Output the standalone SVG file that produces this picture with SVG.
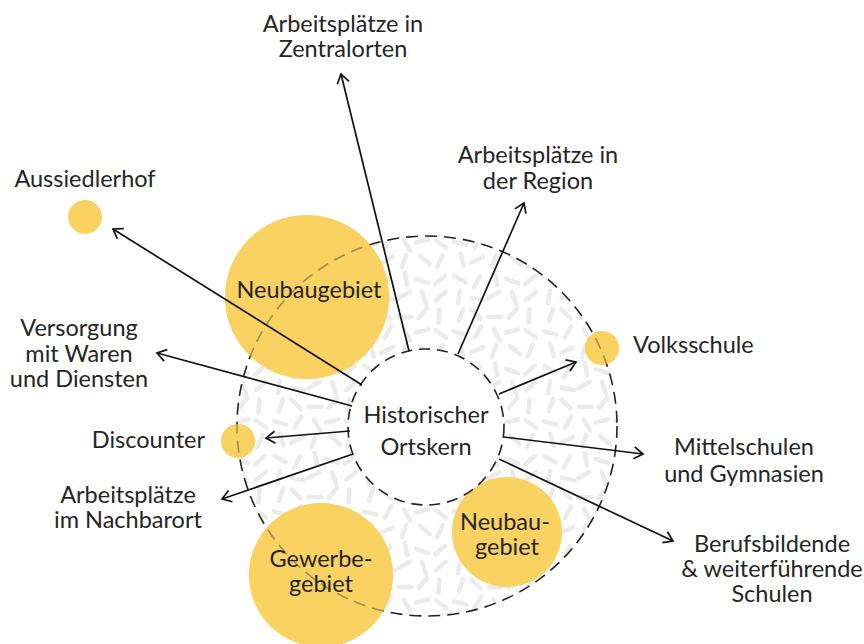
<svg xmlns="http://www.w3.org/2000/svg" xmlns:xlink="http://www.w3.org/1999/xlink" width="864" height="644" viewBox="0 0 864 644">
<style>
  text{font-family:Lato,"Open Sans","Liberation Sans",sans-serif;font-size:23.5px;fill:#252525;text-anchor:middle}
  .yel{fill:#f9d262}
  .tint{fill:#f9d262;opacity:0.6}
  .dash{fill:none;stroke:#222;stroke-width:1.6;stroke-dasharray:12 7}
  .conn line{stroke:#111;stroke-width:1.7;marker-end:url(#arr)}
</style>
<defs>
  <marker id="arr" markerUnits="userSpaceOnUse" markerWidth="24" markerHeight="24" viewBox="-12 -12 24 24" refX="0" refY="0" orient="auto">
    <path d="M-9,-6 L0,0 L-9,6" fill="none" stroke="#111" stroke-width="1.7"/>
  </marker>
  <line id="d" x1="-6.5" y1="0" x2="6.5" y2="0" stroke="#ebebeb" stroke-width="4.5" stroke-linecap="round"/>
  <pattern id="tex" patternUnits="userSpaceOnUse" width="90" height="90">
    <use xlink:href="#d" transform="translate(10,9) rotate(30)"/>
    <use xlink:href="#d" transform="translate(27,12) rotate(-60)"/>
    <use xlink:href="#d" transform="translate(46,9) rotate(80)"/>
    <use xlink:href="#d" transform="translate(62,11) rotate(20)"/>
    <use xlink:href="#d" transform="translate(80,10) rotate(-40)"/>
    <use xlink:href="#d" transform="translate(9,27) rotate(100)"/>
    <use xlink:href="#d" transform="translate(28,29) rotate(10)"/>
    <use xlink:href="#d" transform="translate(44,25) rotate(-30)"/>
    <use xlink:href="#d" transform="translate(64,28) rotate(70)"/>
    <use xlink:href="#d" transform="translate(81,26) rotate(140)"/>
    <use xlink:href="#d" transform="translate(11,45) rotate(-70)"/>
    <use xlink:href="#d" transform="translate(26,44) rotate(45)"/>
    <use xlink:href="#d" transform="translate(45,47) rotate(0)"/>
    <use xlink:href="#d" transform="translate(63,43) rotate(-50)"/>
    <use xlink:href="#d" transform="translate(79,46) rotate(95)"/>
    <use xlink:href="#d" transform="translate(10,63) rotate(15)"/>
    <use xlink:href="#d" transform="translate(28,62) rotate(120)"/>
    <use xlink:href="#d" transform="translate(47,65) rotate(60)"/>
    <use xlink:href="#d" transform="translate(62,61) rotate(-15)"/>
    <use xlink:href="#d" transform="translate(81,64) rotate(35)"/>
    <use xlink:href="#d" transform="translate(12,80) rotate(75)"/>
    <use xlink:href="#d" transform="translate(27,80) rotate(-25)"/>
    <use xlink:href="#d" transform="translate(44,81) rotate(110)"/>
    <use xlink:href="#d" transform="translate(65,80) rotate(40)"/>
    <use xlink:href="#d" transform="translate(80,81) rotate(-65)"/>
  </pattern>
</defs>

<g id="umland">
  <circle cx="427" cy="426" r="190" fill="url(#tex)"/>
</g>

<g id="yellow-areas">
  <circle id="c-neubau1" class="yel" cx="307" cy="297" r="82"/>
  <circle id="c-gewerbe" class="yel" cx="321" cy="575" r="72"/>
  <circle id="c-neubau2" class="yel" cx="507" cy="532" r="55"/>
  <circle id="c-volks" class="yel" cx="602" cy="348" r="17"/>
  <circle id="c-disc" class="yel" cx="238" cy="441" r="17"/>
  <circle id="c-aussiedler" class="yel" cx="85" cy="217" r="17"/>
</g>

<g id="umland-border">
  <circle class="dash" cx="427" cy="426" r="190"/>
  <circle class="tint" cx="307" cy="297" r="82"/>
  <circle class="tint" cx="321" cy="575" r="72"/>
  <circle class="tint" cx="602" cy="348" r="17"/>
  <circle class="tint" cx="238" cy="441" r="17"/>
</g>

<g id="ortskern">
  <circle cx="426" cy="427" r="78" fill="#fff" stroke="#222" stroke-width="1.6" stroke-dasharray="11 7"/>
  <text x="426" y="423">Historischer</text>
  <text x="426" y="455">Ortskern</text>
</g>

<g class="conn" id="connectors">
  <line x1="409" y1="351" x2="341" y2="74"/>
  <line x1="458" y1="354" x2="524" y2="203"/>
  <line x1="499" y1="394" x2="576" y2="362"/>
  <line x1="504" y1="437" x2="643" y2="454"/>
  <line x1="499" y1="459" x2="673" y2="541"/>
  <line x1="362" y1="385" x2="113" y2="229"/>
  <line x1="352" y1="406" x2="157" y2="353"/>
  <line x1="350" y1="431" x2="266" y2="438"/>
  <line x1="353" y1="454" x2="222" y2="499"/>
</g>

<g id="n-neubau1"><text x="309" y="298">Neubaugebiet</text></g>
<g id="n-gewerbe"><text x="321" y="567">Gewerbe-</text><text x="321" y="592">gebiet</text></g>
<g id="n-neubau2"><text x="505" y="530">Neubau-</text><text x="507" y="555">gebiet</text></g>
<g id="n-zentral"><text x="343" y="32">Arbeitsplätze in</text><text x="343" y="57">Zentralorten</text></g>
<g id="n-region"><text x="538" y="163">Arbeitsplätze in</text><text x="538" y="189">der Region</text></g>
<g id="n-aussiedler"><text x="85" y="187">Aussiedlerhof</text></g>
<g id="n-versorgung"><text x="79" y="336">Versorgung</text><text x="79" y="362">mit Waren</text><text x="79" y="387">und Diensten</text></g>
<g id="n-discounter"><text x="205" y="448" style="text-anchor:end">Discounter</text></g>
<g id="n-nachbarort"><text x="128" y="503">Arbeitsplätze</text><text x="128" y="528">im Nachbarort</text></g>
<g id="n-volks"><text x="633" y="353" style="text-anchor:start">Volksschule</text></g>
<g id="n-mittel"><text x="744" y="455">Mittelschulen</text><text x="744" y="482">und Gymnasien</text></g>
<g id="n-beruf"><text x="772" y="552">Berufsbildende</text><text x="772" y="577">&amp; weiterführende</text><text x="772" y="602">Schulen</text></g>
</svg>
